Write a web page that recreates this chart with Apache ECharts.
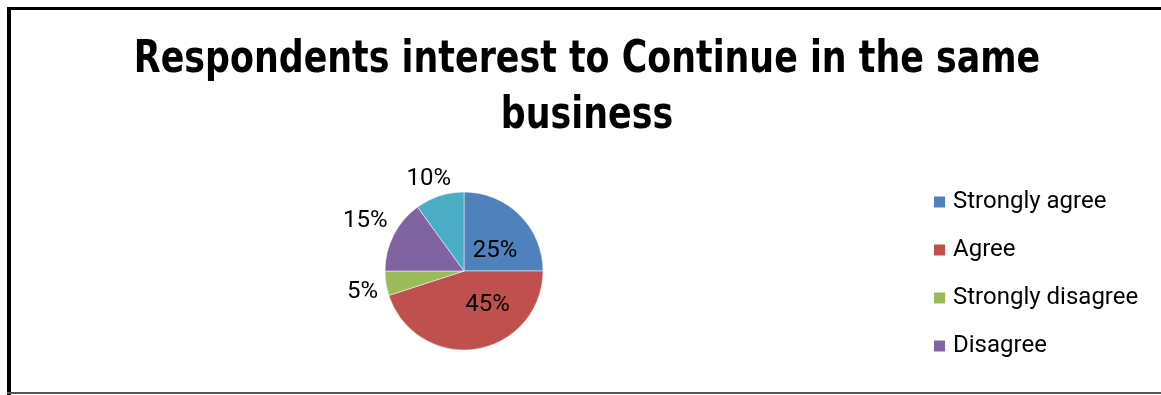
<!DOCTYPE html>
<html>
<head>
<meta charset="utf-8">
<script src="https://cdn.jsdelivr.net/npm/echarts@6/dist/echarts.min.js"></script>
<style>
  html, body { margin: 0; padding: 0; background: #fff; }
  #chart { width: 1161px; height: 395px; }
</style>
</head>
<body>
<div id="chart"></div>
<script>
// Survey answers and their shares (percent)
const categories = ['Strongly agree', 'Agree', 'Strongly disagree', 'Disagree', 'Neutral'];
const shares = [25, 45, 5, 15, 10];
const sliceColors = ['#4F81BD', '#C0504D', '#9BBB59', '#8064A2', '#4BACC6'];
const legendNames = ['Strongly agree', 'Agree', 'Strongly disagree', 'Disagree'];
const titleLines = ['Respondents interest to Continue in the same', 'business'];

// Label placement per slice: inside or outside, plus a small nudge
const labelPlacement = {
  'Strongly agree':    { position: 'inner',   offset: [1, 10] },
  'Agree':             { position: 'inner',   offset: [17, -8] },
  'Strongly disagree': { position: 'outside', offset: [5, 7] },
  'Disagree':          { position: 'outside', offset: [6, -11] },
  'Neutral':           { position: 'outside', offset: [19, -9] }
};

const titleFont = '"DejaVu Sans Condensed", "DejaVu Sans", sans-serif';
const bodyFont = 'Roboto, sans-serif';

const chart = echarts.init(document.getElementById('chart'), null, { renderer: 'canvas' });

const pieData = categories.map((name, i) => ({
  name: name,
  value: shares[i],
  itemStyle: { color: sliceColors[i] },
  label: labelPlacement[name]
}));

// Title drawn as two centred lines, slightly narrowed to a condensed width
const titleGraphics = titleLines.map((line, i) => ({
  type: 'text',
  x: 587,
  y: 39 + i * 56,
  scaleX: 0.88,
  style: {
    text: line,
    align: 'center',
    verticalAlign: 'top',
    fontFamily: titleFont,
    fontWeight: 'bold',
    fontSize: 44,
    fill: '#000'
  }
}));

chart.setOption({
  animation: false,
  backgroundColor: '#ffffff',
  legend: {
    orient: 'vertical',
    left: 927,
    top: 185,
    data: legendNames,
    icon: 'rect',
    itemWidth: 13,
    itemHeight: 13,
    itemGap: 24,
    textStyle: { fontFamily: bodyFont, fontSize: 24, color: '#000', padding: [0, 0, 0, 2] }
  },
  series: [{
    type: 'pie',
    center: [464, 271],
    radius: 79,
    startAngle: 90,
    clockwise: true,
    data: pieData,
    itemStyle: { borderColor: '#fff', borderWidth: 0.5 },
    label: {
      show: true,
      formatter: '{c}%',
      fontFamily: bodyFont,
      fontSize: 24,
      color: '#000'
    },
    labelLine: { show: false, length: 8, length2: 0 },
    emphasis: { disabled: true }
  }],
  graphic: [
    { type: 'rect', shape: { x: 7, y: 7, width: 1160, height: 3 }, style: { fill: '#000' } },
    { type: 'rect', shape: { x: 7, y: 7, width: 4, height: 388 }, style: { fill: '#000' } },
    { type: 'rect', shape: { x: 7, y: 392, width: 1160, height: 2 }, style: { fill: '#555' } }
  ].concat(titleGraphics)
});
</script>
</body>
</html>
